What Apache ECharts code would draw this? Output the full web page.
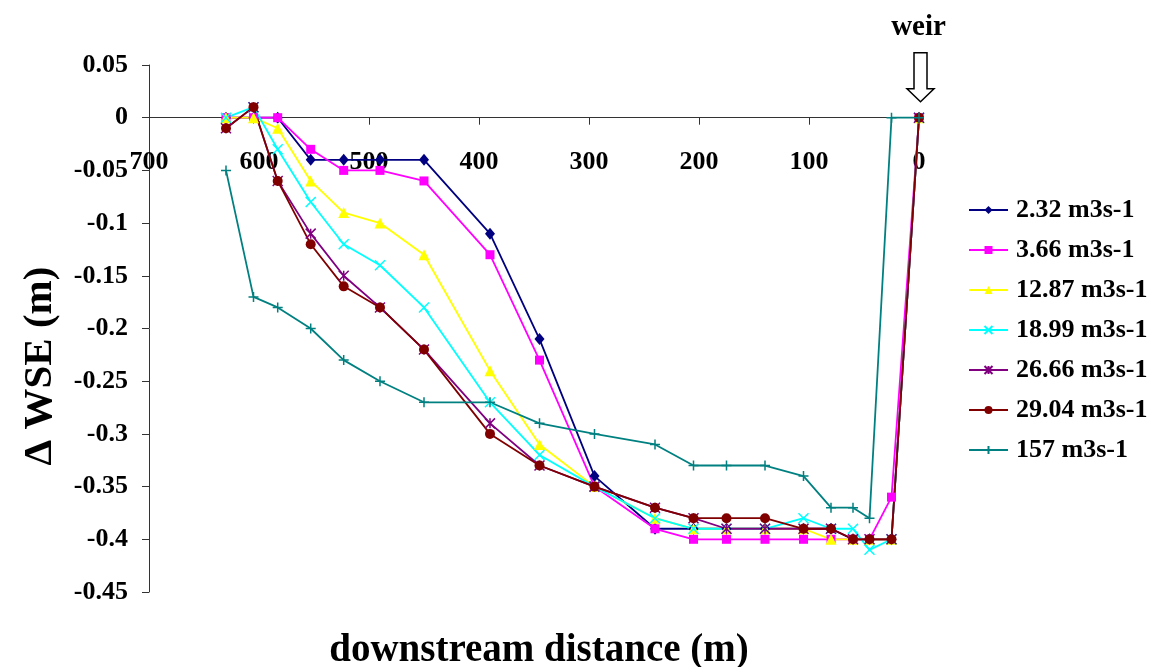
<!DOCTYPE html>
<html>
<head>
<meta charset="utf-8">
<script src="https://cdn.jsdelivr.net/npm/echarts@6/dist/echarts.min.js"></script>
<style>
  html, body { margin: 0; padding: 0; background: #ffffff; }
  #chart { width: 1165px; height: 667px; }
</style>
</head>
<body>
<div id="chart"></div>
<script>
// Downstream distance from the weir (m)
const distances = [630, 605, 583, 553, 523, 490, 450, 390, 345, 295, 240, 205, 175, 140, 105, 80, 60, 45, 25, 0];

// Change in water surface elevation (m) for each discharge
const q232  = [0, 0, 0, -0.04, -0.04, -0.04, -0.04, -0.11, -0.21, -0.34, -0.39, -0.39, -0.39, -0.39, -0.39, -0.39, -0.40, -0.40, -0.40, 0];
const q366  = [0, 0, 0, -0.03, -0.05, -0.05, -0.06, -0.13, -0.23, -0.35, -0.39, -0.40, -0.40, -0.40, -0.40, -0.40, -0.40, -0.40, -0.36, 0];
const q1287 = [0, 0, -0.01, -0.06, -0.09, -0.10, -0.13, -0.24, -0.31, -0.35, -0.38, -0.39, -0.39, -0.39, -0.39, -0.40, -0.40, -0.40, -0.40, 0];
const q1899 = [0, 0.01, -0.03, -0.08, -0.12, -0.14, -0.18, -0.27, -0.32, -0.35, -0.38, -0.39, -0.39, -0.39, -0.38, -0.39, -0.39, -0.41, -0.40, 0];
const q2666 = [-0.01, 0.01, -0.06, -0.11, -0.15, -0.18, -0.22, -0.29, -0.33, -0.35, -0.37, -0.38, -0.39, -0.39, -0.39, -0.39, -0.40, -0.40, -0.40, 0];
const q2904 = [-0.01, 0.01, -0.06, -0.12, -0.16, -0.18, -0.22, -0.30, -0.33, -0.35, -0.37, -0.38, -0.38, -0.38, -0.39, -0.39, -0.40, -0.40, -0.40, 0];
const q157  = [-0.05, -0.17, -0.18, -0.20, -0.23, -0.25, -0.27, -0.27, -0.29, -0.30, -0.31, -0.33, -0.33, -0.33, -0.34, -0.37, -0.37, -0.38, 0, 0];

const seriesNames = ['2.32 m3s-1', '3.66 m3s-1', '12.87 m3s-1', '18.99 m3s-1', '26.66 m3s-1', '29.04 m3s-1', '157 m3s-1'];
const seriesValues = [q232, q366, q1287, q1899, q2666, q2904, q157];

const xAxisName = 'downstream distance (m)';
const yAxisName = '\u0394 WSE (m)';
const weirLabel = 'weir';

const FONT = '"Liberation Serif", "Times New Roman", serif';

// Stroked marker outlines
const crossPath = 'path://M0,0L10,10M10,0L0,10';
const starPath  = 'path://M0,0L10,10M10,0L0,10M5,0L5,10';
const plusPath  = 'path://M5,0L5,10M0,5L10,5';

const styles = [
  { color: '#000080', symbol: 'diamond',  size: [10, 12], stroke: 0 },
  { color: '#FF00FF', symbol: 'rect',     size: 9,  stroke: 0 },
  { color: '#FFFF00', symbol: 'triangle', size: 11, stroke: 0 },
  { color: '#00FFFF', symbol: crossPath,  size: 10, stroke: 1.5 },
  { color: '#800080', symbol: starPath,   size: 10, stroke: 1.5 },
  { color: '#800000', symbol: 'circle',   size: 10, stroke: 0 },
  { color: '#008080', symbol: plusPath,   size: 10, stroke: 1.5 }
];

const series = seriesNames.map((name, i) => ({
  name: name,
  type: 'line',
  data: distances.map((d, j) => [d, seriesValues[i][j]]),
  symbol: styles[i].symbol,
  symbolSize: styles[i].size,
  showAllSymbol: true,
  lineStyle: { color: styles[i].color, width: 1.8 },
  itemStyle: {
    color: styles[i].color,
    borderColor: styles[i].color,
    borderWidth: styles[i].stroke
  },
  emphasis: { disabled: true }
}));

const chart = echarts.init(document.getElementById('chart'), null, { renderer: 'canvas' });

chart.setOption({
  animation: false,
  backgroundColor: '#ffffff',
  grid: { left: 149, right: 246, top: 65, bottom: 75, containLabel: false },
  title: {
    text: xAxisName,
    left: 534,
    top: 626,
    textAlign: 'center',
    textStyle: { fontFamily: FONT, fontSize: 39, fontWeight: 'bold', color: '#000' }
  },
  legend: {
    orient: 'vertical',
    left: 968,
    top: 197,
    itemGap: 14,
    itemWidth: 39,
    itemHeight: 10,
    padding: 0,
    data: seriesNames,
    textStyle: { fontFamily: FONT, fontSize: 26, fontWeight: 'bold', color: '#000', padding: [0, 0, 0, 3] }
  },
  xAxis: {
    type: 'value',
    inverse: true,
    min: 0,
    max: 700,
    interval: 100,
    position: 'bottom',
    offset: 0,
    axisLine: { onZero: false, lineStyle: { color: '#333', width: 1 } },
    axisTick: { show: true, inside: false, length: 7, lineStyle: { color: '#333' } },
    axisLabel: {
      margin: 32,
      fontFamily: FONT, fontSize: 26, fontWeight: 'bold', color: '#000',
      showMinLabel: true, showMaxLabel: true
    },
    splitLine: { show: false }
  },
  yAxis: {
    type: 'value',
    min: -0.45,
    max: 0.05,
    interval: 0.05,
    axisLine: { show: true, onZero: false, lineStyle: { color: '#333', width: 1 } },
    axisTick: { show: true, inside: false, length: 7, lineStyle: { color: '#333' } },
    axisLabel: {
      margin: 21,
      fontFamily: FONT, fontSize: 26, fontWeight: 'bold', color: '#000',
      formatter: v => String(Number(v.toFixed(2)))
    },
    splitLine: { show: false }
  },
  series: series
});

// Lift the distance axis (line, ticks and labels) up to the zero level
const origin = chart.convertToPixel({ gridIndex: 0 }, [0, 0]);
const bottomEdge = chart.convertToPixel({ gridIndex: 0 }, [0, -0.45]);
chart.setOption({ xAxis: { offset: -(bottomEdge[1] - origin[1]) } });

// Weir marker: hollow arrow above the zero-distance point
const cx = origin[0] + 1.5;
const cy = origin[1];
chart.setOption({
  graphic: [
    {
      type: 'polygon',
      shape: {
        points: [
          [cx - 6.5, cy - 65], [cx + 6.5, cy - 65], [cx + 6.5, cy - 29],
          [cx + 13.5, cy - 29], [cx, cy - 16], [cx - 13.5, cy - 29], [cx - 6.5, cy - 29]
        ]
      },
      style: { fill: '#ffffff', stroke: '#000000', lineWidth: 1.5 },
      z: 100
    },
    {
      type: 'text',
      x: cx - 2,
      y: cy - 90,
      style: {
        text: weirLabel,
        fontFamily: FONT, fontSize: 29, fontWeight: 'bold', fill: '#000',
        align: 'center', verticalAlign: 'middle'
      },
      z: 100
    },
    {
      type: 'text',
      x: 40,
      y: 366,
      rotation: Math.PI / 2,
      style: {
        text: yAxisName,
        fontFamily: FONT, fontSize: 41, fontWeight: 'bold', fill: '#000',
        align: 'center', verticalAlign: 'middle'
      },
      z: 100
    }
  ]
});
</script>
</body>
</html>
